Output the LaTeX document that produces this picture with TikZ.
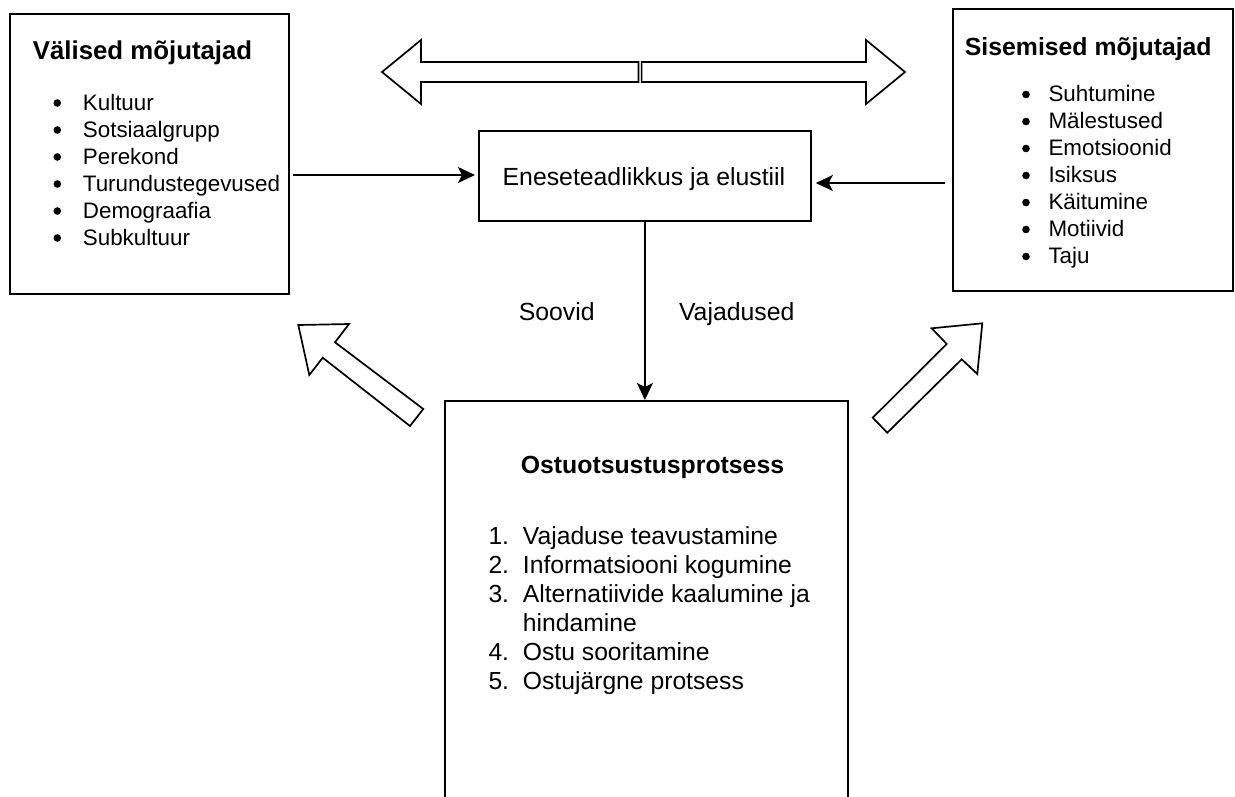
\documentclass[tikz,border=0pt]{standalone}
\usepackage{fontspec}
\setmainfont{Liberation Sans}
\usetikzlibrary{arrows.meta}

\begin{document}
\begin{tikzpicture}[x=1pt,y=-1pt,
  box/.style={draw, line width=1.8pt, anchor=north west, inner sep=0pt},
  conn/.style={line width=1.8pt, -{Stealth[length=17pt,width=16pt,inset=4pt]}},
  blockarrow/.style={draw, line width=1.7pt, line join=miter, fill=white},
  head/.style={font=\fontsize{24.8}{30}\selectfont\bfseries, inner sep=0pt},
  txt/.style={font=\fontsize{24.8}{30}\selectfont, inner sep=0pt},
  item/.style={font=\fontsize{22.4}{27}\selectfont, inner sep=0pt, anchor=base west},
  dot/.style={circle, fill, inner sep=0pt, minimum size=7.6pt},
  bigitem/.style={font=\fontsize{24.7}{29}\selectfont, inner sep=0pt, anchor=base west},
]
\useasboundingbox (0,0) rectangle (1235,796);
\clip (0,0) rectangle (1235,796);

% boxes
\node[box, minimum width=279pt, minimum height=280pt] (lbox) at (9,13) {};
\node[box, minimum width=280pt, minimum height=282pt] (rbox) at (952,8) {};
\node[box, minimum width=332pt, minimum height=90pt] (cbox) at (478,130) {};
\node[box, minimum width=403pt, minimum height=430pt] (bbox) at (444,400) {};

% external influences
\node[head, font=\fontsize{25.8}{30}\selectfont\bfseries, anchor=base west] (lhead) at (32.7,59.5) {Välised mõjutajad};
\foreach \t [count=\i] in {Kultuur, Sotsiaalgrupp, Perekond, Turundustegevused, Demograafia, Subkultuur} {
  \node[dot] (lb\i) at (57.3,{103+27*(\i-1)}) {};
  \node[item] (li\i) at (82.7,{110+27*(\i-1)}) {\t};
}

% internal influences
\node[head, anchor=base] (rhead) at (1088.3,55) {Sisemised mõjutajad};
\foreach \t [count=\i] in {Suhtumine, Mälestused, Emotsioonid, Isiksus, Käitumine, Motiivid, Taju} {
  \node[dot] (rb\i) at (1026,{94.5+27*(\i-1)}) {};
  \node[item] (ri\i) at (1048.3,{101.5+27*(\i-1)}) {\t};
}

% centre box text
\node[txt, anchor=base] (ctext) at (644,185) {Eneseteadlikkus ja elustiil};

% purchase decision process
\node[head, anchor=base] (bhead) at (652.5,473.3) {Ostuotsustusprotsess};
\node[bigitem] (bn1) at (488.3,544) {1.};
\node[bigitem] (bi1) at (522.7,544) {Vajaduse teavustamine};
\node[bigitem] (bn2) at (488.3,573) {2.};
\node[bigitem] (bi2) at (522.7,573) {Informatsiooni kogumine};
\node[bigitem] (bn3) at (488.3,602) {3.};
\node[bigitem] (bi3) at (522.7,602) {Alternatiivide kaalumine ja};
\node[bigitem] (bi3b) at (522.7,631) {hindamine};
\node[bigitem] (bn4) at (488.3,660) {4.};
\node[bigitem] (bi4) at (522.7,660) {Ostu sooritamine};
\node[bigitem] (bn5) at (488.3,689) {5.};
\node[bigitem] (bi5) at (522.7,689) {Ostujärgne protsess};

% labels on the vertical connector
\node[txt, anchor=base] (soovid) at (556.7,320.7) {Soovid};
\node[txt, anchor=base] (vajad) at (736.7,320.7) {Vajadused};

% connectors
\coordinate (la) at (293,175);
\coordinate (ra) at (945,183);
\draw[conn] (la) -- ([xshift=-3pt]cbox.west |- la);
\draw[conn] (ra) -- ([xshift=4pt]cbox.east |- ra);
\draw[conn] (cbox.south) -- (cbox.south |- bbox.north);

% double block arrow on top
\draw[blockarrow] (638.4,62) -- (421,62) -- (421,40) -- (382,72) -- (421,104) -- (421,82) -- (638.4,82) -- cycle;
\draw[blockarrow] (641.6,62) -- (866,62) -- (866,40) -- (905,72) -- (866,104) -- (866,82) -- (641.6,82) -- cycle;

% diagonal block arrows
\draw[blockarrow] (298.3,325) -- (349,324) -- (335,342.3) -- (423.3,409) -- (410,426) -- (322.7,357.7) -- (309.3,375) -- cycle;
\draw[blockarrow] (982.3,323.3) -- (931.7,328.3) -- (946.7,344) -- (872.7,417.7) -- (887.3,432.7) -- (961.7,359.3) -- (977.3,374) -- cycle;
\end{tikzpicture}
\end{document}
